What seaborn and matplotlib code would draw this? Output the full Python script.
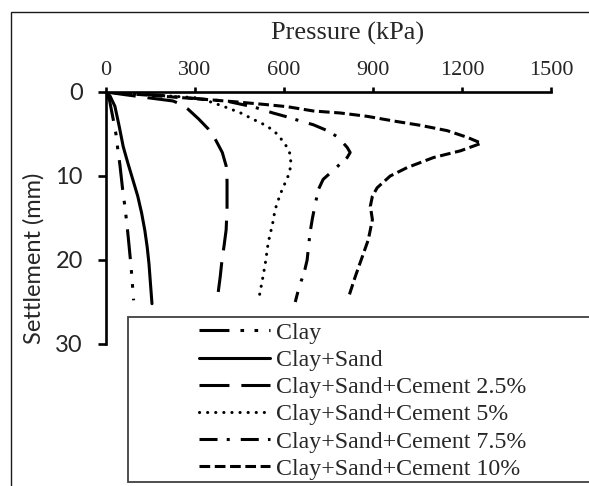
import matplotlib
matplotlib.use("Agg")
import matplotlib.pyplot as plt
from matplotlib.patches import Rectangle
from matplotlib.font_manager import FontProperties
import seaborn as sns

# Plate load test results: settlement (mm) against applied pressure (kPa)
clay_s = [0, 1.0, 3.2, 5.1, 6.9, 8.7, 11.9, 13.7, 15.6, 17.3, 20.6, 22.4, 24.8]
clay_p = [0, 12, 24, 34, 40, 47, 57, 64, 70, 75, 84, 88, 93]

sand_s = [0, 0.5, 1.7, 4.0, 6.5, 8.5, 10.5, 12.4, 14.4, 16.5, 18.5, 20.5, 22.4, 25.2]
sand_p = [0, 14, 30, 44, 58, 74, 91, 107, 120, 131, 139, 145, 149, 155]

cem25_s = [0, 0.3, 0.67, 1.07, 1.5, 2.06, 3.2, 4.37, 5.6, 7.2, 8.8, 10.6, 12.2, 13.8,
           16.4, 18.3, 20.0, 22.0, 23.9]
cem25_p = [0, 60, 138, 226, 255, 277, 312, 344, 368, 392, 405, 408, 408, 408,
           405, 398, 391, 385, 378]

cem5_s = [0, 0.3, 0.7, 1.27, 1.87, 2.46, 3.25, 4.05, 5.0, 6.2, 7.4, 8.4, 9.6, 10.8,
          12.2, 14.0, 15.6, 17.9, 20.4, 22.4, 25.0]
cem5_p = [0, 140, 307, 361, 408, 452, 496, 543, 577, 604, 621, 623, 619, 604,
          587, 570, 562, 547, 537, 527, 513]

cem75_s = [0, 0.4, 1.1, 1.8, 2.5, 2.9, 3.45, 3.9, 4.6, 5.4, 6.6, 7.2, 7.8, 9.0, 10.4,
           11.6, 13.4, 15.0, 16.7, 18.3, 20.0, 21.5, 23.2, 25.0]
cem75_p = [0, 180, 408, 500, 563, 604, 655, 699, 746, 783, 813, 823, 813, 776, 732,
           716, 705, 696, 688, 683, 678, 668, 651, 638]

cem10_s = [0, 0.4, 0.87, 1.15, 1.5, 1.75, 2.26, 2.5, 2.9, 3.45, 3.97, 4.6, 5.4, 6.1, 7.0,
           7.8, 9.0, 10.0, 11.4, 12.4, 13.6, 15.2, 17.6, 19.6, 22.0, 24.5]
cem10_p = [0, 150, 330, 430, 540, 611, 699, 790, 881, 969, 1060, 1150, 1218, 1265, 1195,
           1104, 1015, 958, 914, 898, 891, 898, 884, 864, 840, 817]

labels = ["Clay", "Clay+Sand", "Clay+Sand+Cement 2.5%", "Clay+Sand+Cement 5%",
          "Clay+Sand+Cement 7.5%", "Clay+Sand+Cement 10%"]
x_ticks = [0, 300, 600, 900, 1200, 1500]
y_ticks = [0, 10, 20, 30]

series = [
    (clay_p, clay_s, (0, (9.8, 3.6, 1.2, 3.4, 1.2, 3.6)), "butt"),
    (sand_p, sand_s, "-", "butt"),
    (cem25_p, cem25_s, (0, (9.8, 3.9)), "butt"),
    (cem5_p, cem5_s, (0, (0.05, 2.6)), "round"),
    (cem75_p, cem75_s, (0, (5.9, 3.0, 1.0, 3.6)), "butt"),
    (cem10_p, cem10_s, (0, (3.5, 1.5)), "butt"),
]

sns.set_theme(style="ticks")
serif = "Liberation Serif"
sans = "Lato"

fig = plt.figure(figsize=(5.89, 4.86), dpi=100)
W, H = 589, 486
ax = fig.add_axes([106 / W, 1 - 344 / H, (551 - 106) / W, (344 - 92) / H])
ax.set_facecolor("white")

handles = []
for (p, s, ls, cap), lab in zip(series, labels):
    sns.lineplot(x=p, y=s, ax=ax, color="black", linewidth=2.2, linestyle=ls,
                 sort=False, estimator=None, legend=False)
    line = ax.lines[-1]
    line.set_dash_capstyle(cap)
    line.set_solid_joinstyle("round")
    line.set_dash_joinstyle("round")
    line.set_label(lab)
    handles.append(line)

ax.set_xlim(0, 1500)
ax.set_ylim(30, 0)
ax.set_xticks(x_ticks)
ax.set_yticks(y_ticks)
ax.xaxis.tick_top()
ax.xaxis.set_label_position("top")

for side in ("bottom", "right"):
    ax.spines[side].set_visible(False)
for side in ("top", "left"):
    ax.spines[side].set_linewidth(1.9)
    ax.spines[side].set_color("black")

ax.tick_params(axis="x", direction="out", length=3.4, width=1.9, color="black", pad=5,
               labelsize=16)
ax.tick_params(axis="y", direction="out", length=5.6, width=1.9, color="black", pad=11,
               labelsize=17)
for t in ax.get_xticklabels():
    t.set_fontfamily(serif)
for t in ax.get_yticklabels():
    t.set_fontfamily(sans)

ax.set_xlabel("Pressure (kPa)", fontsize=19, family=serif)
ax.xaxis.set_label_coords(0.543, (344 - 33) / 252)
ax.xaxis.label.set_va("center")
ax.set_ylabel("Settlement (mm)", fontsize=17, family=sans)
ax.yaxis.set_label_coords((34 - 106) / 445, (344 - 258) / 252)
ax.yaxis.label.set_va("center")
ax.yaxis.label.set_ha("center")

# outer chart border
fig.patches.append(Rectangle((11 / W, -0.1), 1.2, 1 - 12 / H + 0.1, transform=fig.transFigure,
                             facecolor="none", edgecolor="#1a1a1a", linewidth=1.0))
# legend box
fig.patches.append(Rectangle((127.5 / W, 1 - 482 / H), 1.0, (482 - 316.5) / H,
                             transform=fig.transFigure, facecolor="white",
                             edgecolor="#404040", linewidth=1.3, zorder=2))

leg = fig.legend(handles=handles, labels=labels, loc="upper left",
                 bbox_to_anchor=(199 / W, 1 - 322 / H), bbox_transform=fig.transFigure,
                 frameon=False, borderpad=0, borderaxespad=0, handlelength=2.96,
                 handletextpad=0.28, labelspacing=0.23,
                 prop=FontProperties(family=serif, size=17.2))
leg.set_zorder(5)

fig.savefig("out.png", dpi=100, facecolor="white")
